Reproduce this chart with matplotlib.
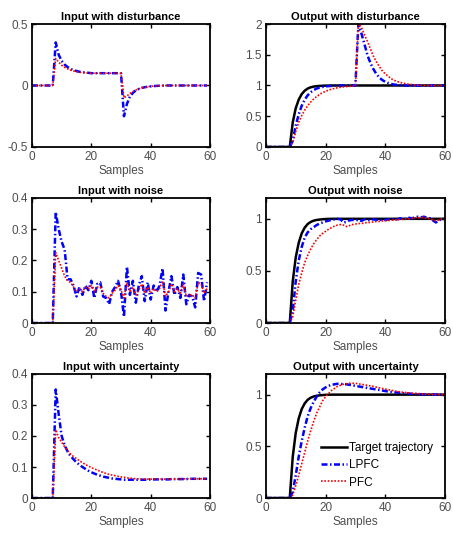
import numpy as np
import matplotlib
matplotlib.use("Agg")
import matplotlib.pyplot as plt

plt.rcParams['font.family'] = ['Liberation Sans', 'DejaVu Sans']
plt.rcParams['axes.unicode_minus'] = False

# sample index
k_in = np.arange(60)
k_out = np.arange(61)

# target trajectory (same in all output plots)
target = [0, 0, 0, 0, 0, 0, 0, 0, 0, 0.4, 0.63, 0.77, 0.86, 0.915, 0.95, 0.97, 0.982, 0.989, 0.993, 0.996,
          0.998, 0.999] + [1.0] * 39

# input with disturbance
in_dist_lpfc = [0] * 8 + [0.35, 0.25, 0.2, 0.17, 0.15, 0.135, 0.125, 0.118, 0.112, 0.108, 0.105, 0.103,
                          0.1, 0.1, 0.1, 0.1, 0.1, 0.1, 0.1, 0.1, 0.1, 0.1, 0.1,
                          -0.25, -0.15, -0.09, -0.06, -0.04, -0.028, -0.02, -0.014, -0.01, -0.007,
                          -0.005, -0.003, -0.002, -0.001] + [0] * 15
in_dist_pfc = [0] * 8 + [0.22, 0.19, 0.165, 0.148, 0.135, 0.125, 0.118, 0.112, 0.108, 0.105, 0.103, 0.101,
                         0.1, 0.1, 0.1, 0.1, 0.1, 0.1, 0.1, 0.1, 0.1, 0.1, 0.1,
                         -0.1, -0.085, -0.065, -0.05, -0.037, -0.027, -0.02, -0.014, -0.01, -0.007,
                         -0.005, -0.003, -0.002, -0.001] + [0] * 15

# output with disturbance
out_dist_lpfc = [0] * 9 + [0.1, 0.35, 0.53, 0.67, 0.77, 0.84, 0.89, 0.925, 0.95, 0.965, 0.977, 0.985, 0.99,
                           0.993, 0.996, 0.998, 0.999, 1.0, 1.0, 1.0, 1.0, 1.0,
                           2.0, 1.85, 1.68, 1.5, 1.37, 1.27, 1.19, 1.13, 1.09, 1.06, 1.04, 1.025, 1.015,
                           1.01, 1.005] + [1.0] * 15
out_dist_pfc = [0] * 9 + [0.08, 0.25, 0.4, 0.51, 0.6, 0.67, 0.73, 0.78, 0.82, 0.855, 0.885, 0.905, 0.925,
                          0.94, 0.953, 0.963, 0.971, 0.977, 0.982, 0.986, 0.989, 0.991,
                          2.0, 1.95, 1.83, 1.72, 1.6, 1.48, 1.39, 1.31, 1.24, 1.19, 1.15, 1.11, 1.085,
                          1.065, 1.05, 1.038, 1.028, 1.02, 1.015, 1.01, 1.007, 1.005, 1.003, 1.002,
                          1.001] + [1.0] * 5

# input with noise
in_noise_lpfc = [0] * 8 + [0.355, 0.30, 0.26, 0.235, 0.14, 0.14, 0.12, 0.085, 0.115, 0.09, 0.12, 0.105,
                           0.135, 0.08, 0.125, 0.13, 0.085, 0.08, 0.06, 0.10, 0.115, 0.135, 0.10, 0.02,
                           0.18, 0.09, 0.135, 0.065, 0.12, 0.15, 0.07, 0.13, 0.075, 0.12, 0.10, 0.12,
                           0.175, 0.04, 0.10, 0.15, 0.09, 0.115, 0.08, 0.155, 0.06, 0.09, 0.085, 0.05,
                           0.16, 0.155, 0.07, 0.13]
in_noise_pfc = [0] * 8 + [0.225, 0.2, 0.175, 0.15, 0.135, 0.13, 0.115, 0.1, 0.11, 0.1, 0.115, 0.11,
                          0.12, 0.1, 0.115, 0.115, 0.095, 0.085, 0.08, 0.095, 0.105, 0.12, 0.105, 0.08,
                          0.13, 0.1, 0.115, 0.09, 0.105, 0.125, 0.095, 0.115, 0.095, 0.11, 0.1, 0.11,
                          0.135, 0.085, 0.1, 0.125, 0.1, 0.11, 0.095, 0.125, 0.085, 0.09, 0.09, 0.08,
                          0.13, 0.125, 0.095, 0.11]

# output with noise
out_noise_lpfc = [0] * 9 + [0.12, 0.4, 0.6, 0.73, 0.82, 0.87, 0.9, 0.92, 0.94, 0.955, 0.965, 0.975, 0.983,
                            0.99, 0.995, 1.0, 0.995, 0.965, 0.97, 0.985, 0.99, 0.985, 0.99, 0.98, 0.995,
                            0.99, 0.985, 0.995, 0.99, 0.995, 0.985, 0.99, 0.995, 0.99, 1.0, 0.995, 1.005,
                            1.0, 1.0, 1.01, 1.005, 1.015, 1.02, 1.015, 1.02, 1.01, 1.005, 0.985, 0.965,
                            0.985, 1.0, 1.0]
out_noise_pfc = [0] * 9 + [0.06, 0.22, 0.37, 0.48, 0.58, 0.65, 0.71, 0.76, 0.8, 0.835, 0.86, 0.88, 0.9,
                           0.915, 0.93, 0.94, 0.945, 0.94, 0.925, 0.935, 0.945, 0.95, 0.955, 0.955, 0.96,
                           0.965, 0.965, 0.97, 0.975, 0.975, 0.98, 0.98, 0.985, 0.985, 0.99, 0.99, 0.995,
                           0.995, 1.0, 1.0, 1.005, 1.01, 1.01, 1.015, 1.01, 1.005, 1.0, 0.99, 0.98, 0.99,
                           1.0, 1.005]

# input with uncertainty
in_unc_lpfc = ([0] * 8
               + [0.35, 0.27, 0.2, 0.17, 0.15, 0.135, 0.125, 0.115, 0.107, 0.1, 0.094, 0.088]
               + [0.083, 0.079, 0.075, 0.072, 0.069, 0.067, 0.065, 0.063, 0.062, 0.061, 0.06]
               + [0.059] * 9 + [0.06] * 7 + [0.061] * 6 + [0.062] * 7)
in_unc_pfc = ([0] * 8
              + [0.22, 0.195, 0.18, 0.165, 0.152, 0.142, 0.134, 0.127, 0.12, 0.114, 0.108, 0.103]
              + [0.098, 0.094, 0.09, 0.086, 0.082, 0.079, 0.076, 0.074, 0.072, 0.07, 0.068]
              + [0.067, 0.065, 0.064, 0.063, 0.062, 0.062] + [0.061] * 14 + [0.062] * 9)

# output with uncertainty
out_unc_lpfc = [0] * 9 + [0.06, 0.22, 0.4, 0.55, 0.68, 0.79, 0.87, 0.93, 0.98, 1.02, 1.05, 1.07, 1.085,
                          1.095, 1.1, 1.105, 1.105, 1.1, 1.1, 1.095, 1.09, 1.085, 1.08, 1.075, 1.07,
                          1.065, 1.06, 1.055, 1.05, 1.045, 1.04, 1.035, 1.03, 1.027, 1.024, 1.02, 1.017,
                          1.014, 1.012, 1.01, 1.008, 1.006, 1.005, 1.004, 1.003, 1.002, 1.002, 1.001,
                          1.001, 1.0, 1.0, 1.0]
out_unc_pfc = [0] * 9 + [0.03, 0.12, 0.22, 0.33, 0.44, 0.55, 0.65, 0.74, 0.82, 0.88, 0.94, 0.98, 1.01,
                         1.04, 1.06, 1.08, 1.09, 1.1, 1.105, 1.11, 1.11, 1.11, 1.105, 1.1, 1.095, 1.09,
                         1.085, 1.08, 1.073, 1.066, 1.06, 1.054, 1.048, 1.042, 1.036, 1.031, 1.027,
                         1.023, 1.02, 1.017, 1.014, 1.012, 1.01, 1.008, 1.006, 1.005, 1.004, 1.003,
                         1.002, 1.001, 1.0, 1.0]

fig = plt.figure(figsize=(4.53, 5.37), dpi=100)

left_x, right_x = 0.0706, 0.587
w_l, w_r = 0.393, 0.395
rows = [(0.7263, 0.229), (0.3985, 0.2328), (0.0726, 0.231)]

label_col = '#4d4d4d'
blue_dash = (0, (2.4, 1.0, 0.6, 1.0))
red_dot = (0, (1.0, 1.0))


def style(ax, title, ylim, yticks, ylabels):
    ax.set_xlim(0, 60)
    ax.set_ylim(*ylim)
    ax.set_xticks([0, 20, 40, 60])
    ax.set_yticks(yticks)
    ax.set_yticklabels(ylabels)
    ax.tick_params(direction='in', top=True, right=True, length=3, width=1,
                   labelsize=8.5, colors='black', labelcolor=label_col, pad=3)
    for s in ax.spines.values():
        s.set_linewidth(1.3)
    ax.set_title(title, fontsize=8, fontweight='bold', pad=3)
    ax.set_xlabel('Samples', fontsize=8.5, color=label_col, labelpad=1)


def plot_in(ax, lp, pf):
    ax.plot(k_in, lp, color='blue', ls=blue_dash, lw=1.8)
    ax.plot(k_in, pf, color='red', ls=red_dot, lw=1.2)


def plot_out(ax, lp, pf):
    h1, = ax.plot(k_out, target, color='black', ls='-', lw=1.8, label='Target trajectory')
    h2, = ax.plot(k_out, lp, color='blue', ls=blue_dash, lw=1.8, label='LPFC')
    h3, = ax.plot(k_out, pf, color='red', ls=red_dot, lw=1.2, label='PFC')
    return [h1, h2, h3]


# row 1
ax = fig.add_axes([left_x, rows[0][0], w_l, rows[0][1]])
plot_in(ax, in_dist_lpfc, in_dist_pfc)
style(ax, 'Input with disturbance', (-0.5, 0.5), [-0.5, 0, 0.5], ['-0.5', '0', '0.5'])

ax = fig.add_axes([right_x, rows[0][0], w_r, rows[0][1]])
plot_out(ax, out_dist_lpfc, out_dist_pfc)
style(ax, 'Output with disturbance', (0, 2), [0, 0.5, 1, 1.5, 2], ['0', '0.5', '1', '1.5', '2'])

# row 2
ax = fig.add_axes([left_x, rows[1][0], w_l, rows[1][1]])
plot_in(ax, in_noise_lpfc, in_noise_pfc)
style(ax, 'Input with noise', (0, 0.4), [0, 0.1, 0.2, 0.3, 0.4], ['0', '0.1', '0.2', '0.3', '0.4'])

ax = fig.add_axes([right_x, rows[1][0], w_r, rows[1][1]])
plot_out(ax, out_noise_lpfc, out_noise_pfc)
style(ax, 'Output with noise', (0, 1.2), [0, 0.5, 1], ['0', '0.5', '1'])

# row 3
ax = fig.add_axes([left_x, rows[2][0], w_l, rows[2][1]])
plot_in(ax, in_unc_lpfc, in_unc_pfc)
style(ax, 'Input with uncertainty', (0, 0.4), [0, 0.1, 0.2, 0.3, 0.4], ['0', '0.1', '0.2', '0.3', '0.4'])

ax = fig.add_axes([right_x, rows[2][0], w_r, rows[2][1]])
handles = plot_out(ax, out_unc_lpfc, out_unc_pfc)
style(ax, 'Output with uncertainty', (0, 1.2), [0, 0.5, 1], ['0', '0.5', '1'])
ax.legend(handles=handles, loc='lower right', bbox_to_anchor=(0.98, 0.01), frameon=False,
          fontsize=8.5, handlelength=2.2, handletextpad=0.2, labelspacing=0.45, borderaxespad=0.3)

fig.savefig('out.png', dpi=100)
